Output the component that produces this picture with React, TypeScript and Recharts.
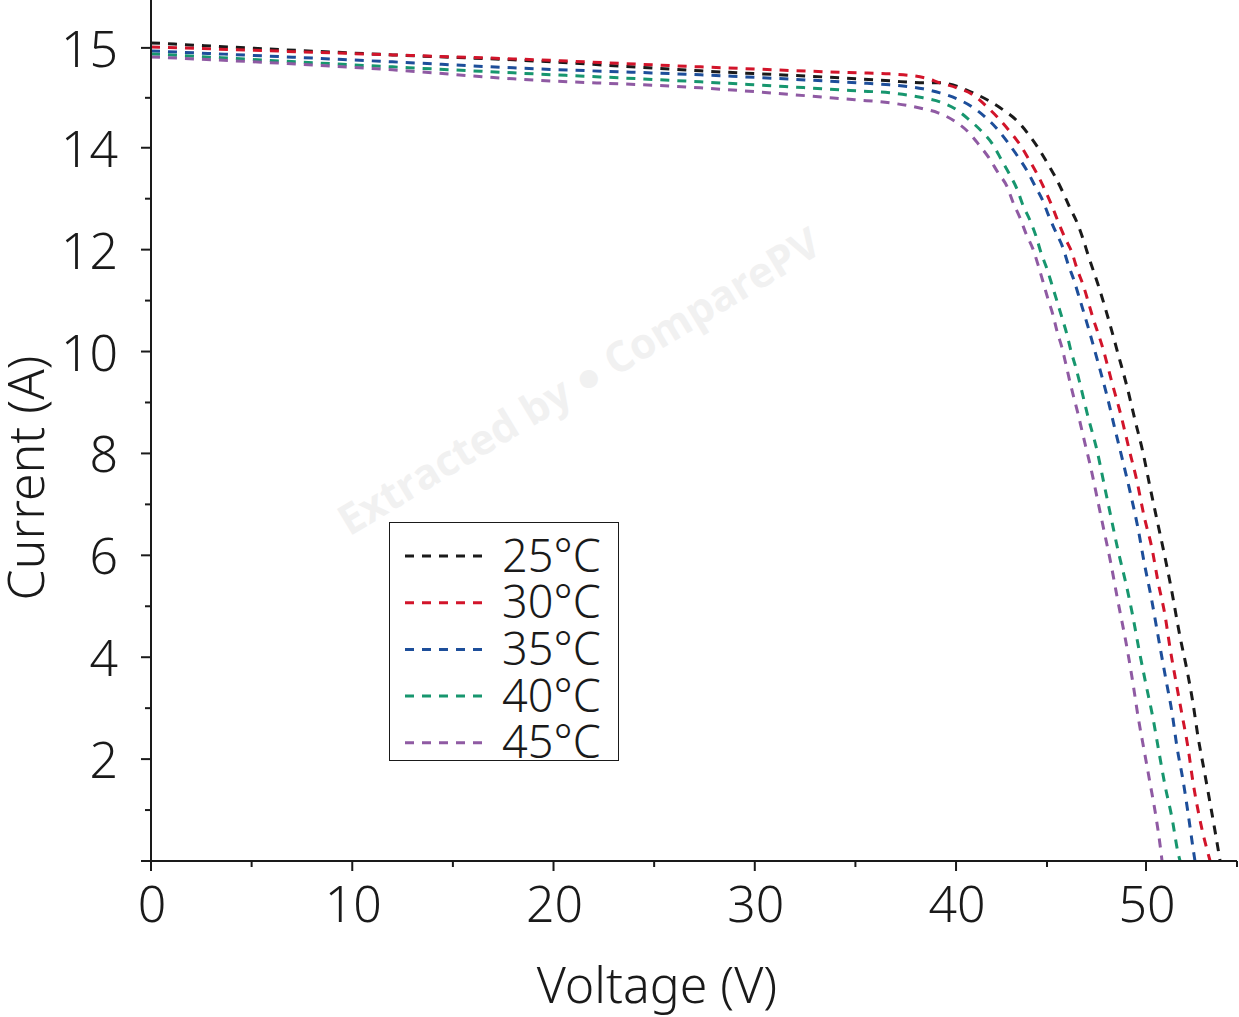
import React from "react";
import { LineChart, Line, XAxis, YAxis, Legend } from "recharts";

// temperatures and their curves (voltage in V, current in A)
const temps = ["25°C", "30°C", "35°C", "40°C", "45°C"];
const colors = ["#1a1a1a", "#d2142a", "#1d4e9a", "#17966e", "#8f5aa3"];

const v25 = [0, 12.0, 18.0, 27.3, 35.1, 36.7, 38.4, 39.2, 40.93, 41.81, 42.58, 43.35, 43.96, 44.51, 45.0, 45.4, 45.81, 46.16, 46.52, 46.82, 47.07, 47.63, 48.13, 48.59, 49.04, 49.44, 49.85, 50.22, 50.6, 50.99, 51.37, 51.87, 52.25, 52.58, 52.86, 53.19, 53.52, 53.85, 54.07];
const i25 = [15.05, 14.93, 14.88, 14.77, 14.69, 14.67, 14.65, 14.65, 14.55, 14.47, 14.38, 14.27, 14.14, 14.0, 13.71, 13.44, 13.12, 12.82, 12.53, 12.21, 11.9, 11.25, 10.6, 9.95, 9.31, 8.66, 8.01, 7.34, 6.7, 6.05, 5.38, 4.4, 3.75, 3.1, 2.43, 1.79, 1.14, 0.47, 0];

const v30 = [0, 12.0, 18.0, 27.3, 35.1, 36.7, 38.46, 39.2, 40.05, 40.93, 41.7, 42.31, 42.97, 43.52, 43.96, 44.45, 44.89, 45.25, 45.56, 45.91, 46.26, 46.52, 46.82, 47.32, 47.83, 48.28, 48.74, 49.14, 49.55, 49.9, 50.33, 50.66, 51.04, 51.32, 51.65, 51.98, 52.31, 52.58, 52.91, 53.52];
const i30 = [15.01, 14.93, 14.89, 14.81, 14.75, 14.74, 14.7, 14.65, 14.6, 14.53, 14.41, 14.3, 14.16, 14.03, 13.8, 13.49, 13.17, 12.86, 12.55, 12.23, 11.94, 11.62, 11.31, 10.66, 10.05, 9.39, 8.74, 8.09, 7.44, 6.77, 6.13, 5.48, 4.83, 4.18, 3.51, 2.87, 2.22, 1.55, 0.9, 0];

const v35 = [0, 12.0, 18.0, 27.3, 35.1, 36.7, 38.36, 39.2, 40.05, 40.88, 41.59, 42.25, 42.86, 43.41, 43.9, 44.34, 44.78, 45.1, 45.45, 45.81, 46.06, 46.36, 46.62, 47.12, 47.58, 48.03, 48.43, 48.84, 49.24, 49.6, 49.9, 50.27, 50.77, 51.1, 51.43, 51.7, 52.03, 52.31, 52.58, 52.69];
const i35 = [14.97, 14.86, 14.8, 14.73, 14.65, 14.63, 14.59, 14.55, 14.49, 14.41, 14.31, 14.19, 14.05, 13.82, 13.55, 13.25, 12.95, 12.65, 12.34, 12.03, 11.72, 11.4, 11.07, 10.42, 9.78, 9.13, 8.48, 7.83, 7.17, 6.52, 5.87, 5.2, 4.2, 3.55, 2.91, 2.24, 1.59, 0.94, 0.26, 0];

const v40 = [0, 12.0, 18.0, 27.3, 35.1, 36.7, 38.36, 39.2, 39.95, 40.66, 41.43, 42.03, 42.53, 42.97, 43.35, 43.68, 44.07, 44.4, 44.67, 45.0, 45.25, 45.51, 45.76, 46.01, 46.21, 46.46, 46.67, 47.07, 47.53, 47.88, 48.23, 48.59, 48.99, 49.34, 49.65, 50.0, 50.38, 50.71, 51.04, 51.43, 51.76, 51.87];
const i40 = [14.94, 14.81, 14.75, 14.66, 14.57, 14.55, 14.5, 14.46, 14.39, 14.29, 14.16, 14.03, 13.74, 13.46, 13.19, 12.87, 12.57, 12.26, 11.94, 11.62, 11.31, 10.98, 10.66, 10.33, 10.01, 9.68, 9.36, 8.72, 8.05, 7.4, 6.75, 6.09, 5.44, 4.79, 4.14, 3.46, 2.81, 2.14, 1.49, 0.84, 0.16, 0];

const v45 = [0, 12.0, 18.0, 27.3, 34.98, 36.72, 38.36, 39.11, 39.9, 40.66, 41.26, 41.81, 42.31, 42.8, 43.13, 43.52, 43.85, 44.23, 44.51, 44.78, 45.05, 45.3, 45.51, 45.76, 45.96, 46.16, 46.36, 46.57, 46.77, 46.97, 47.17, 47.53, 47.88, 48.23, 48.54, 49.04, 49.34, 49.6, 49.9, 50.22, 50.55, 50.82, 50.88];
const i45 = [14.91, 14.78, 14.69, 14.6, 14.48, 14.45, 14.39, 14.35, 14.27, 14.16, 14.03, 13.8, 13.51, 13.24, 12.93, 12.62, 12.31, 12.01, 11.7, 11.37, 11.03, 10.72, 10.39, 10.07, 9.74, 9.4, 9.09, 8.77, 8.44, 8.11, 7.79, 7.13, 6.48, 5.83, 5.18, 4.18, 3.49, 2.83, 2.18, 1.53, 0.86, 0.18, 0];

const voltages = [v25, v30, v35, v40, v45];
const currents = [i25, i30, i35, i40, i45];

// tick values as printed on the axes
const xTicks = [0, 5, 10, 15, 20, 25, 30, 35, 40, 45, 50, 55];
const xLabels = [0, 10, 20, 30, 40, 50];
const yTicks = [0, 1, 2, 3, 4, 5, 6, 7, 8, 9, 10, 11, 12, 13, 14, 14.5, 15];
const yLabels = [2, 4, 6, 8, 10, 12, 14, 15];

// the printed axes are not linear: stretched above 14 A and uneven past 40 V
const xIn = [0, 40, 45, 50, 55];
const xOut = [0, 40, 44.52, 49.44, 53.96];
const yIn = [0, 14, 15, 15.5];
const yOut = [0, 14, 15.96, 16.94];

const warp = (v: number, ins: number[], outs: number[]) => {
  for (let k = 1; k < ins.length; k++) {
    if (v <= ins[k] || k === ins.length - 1) {
      const t = (v - ins[k - 1]) / (ins[k] - ins[k - 1]);
      return outs[k - 1] + t * (outs[k] - outs[k - 1]);
    }
  }
  return v;
};

const ink = "#1a1a1a";
const font = "'Noto Sans', sans-serif";

const series = temps.map((name, s) => ({
  name,
  color: colors[s],
  data: voltages[s].map((v, k) => ({ x: warp(v, xIn, xOut), y: warp(currents[s][k], yIn, yOut) })),
}));

const XTick = (props: any) => {
  const { x, y, payload } = props;
  const v = Math.round(warp(payload.value, xOut, xIn) * 10) / 10;
  const major = v % 10 === 0;
  return (
    <g>
      <line x1={x} x2={x} y1={y} y2={y + (major ? 10 : 6)} stroke={ink} strokeWidth={2} />
      {xLabels.includes(v) && (
        <text x={x + 1} y={y + 42} textAnchor="middle" dominantBaseline="central" fontFamily={font} fontWeight={300} fontSize={50} fill={ink}>
          {v}
        </text>
      )}
    </g>
  );
};

const YTick = (props: any) => {
  const { x, y, payload } = props;
  const v = Math.round(warp(payload.value, yOut, yIn) * 10) / 10;
  const major = v % 2 === 0 || v === 15;
  return (
    <g>
      <line x1={x} x2={x - (major ? 10 : 6)} y1={y} y2={y} stroke={ink} strokeWidth={2} />
      {yLabels.includes(v) && (
        <text x={x - 33} y={y} textAnchor="end" dominantBaseline="central" fontFamily={font} fontWeight={300} fontSize={50} fill={ink}>
          {v}
        </text>
      )}
    </g>
  );
};

const YTitle = () => (
  <text
    x={25}
    y={478}
    transform="rotate(-90, 25, 478)"
    textAnchor="middle"
    dominantBaseline="central"
    fontFamily={font}
    fontWeight={300}
    fontSize={50}
    fill={ink}
  >
    Current (A)
  </text>
);

const LegendBox = () => (
  <div style={{ width: 230, height: 239, border: `1.5px solid ${ink}`, boxSizing: "border-box", background: "white" }}>
    <svg width={227} height={236} style={{ overflow: "visible", display: "block" }}>
      {series.map((s, k) => (
        <g key={s.name}>
          <line x1={15} x2={92} y1={33 + k * 46.7} y2={33 + k * 46.7} stroke={s.color} strokeWidth={3} strokeDasharray="9 8" />
          <text x={112} y={31 + k * 46.7} dominantBaseline="central" fontFamily={font} fontWeight={300} fontSize={45} fill={ink}>
            {s.name}
          </text>
        </g>
      ))}
    </svg>
  </div>
);

export default function App() {
  return (
    <div style={{ position: "absolute", left: 0, top: 0, width: 1239, height: 1017, background: "white" }}>
      <div
        style={{
          position: "absolute",
          left: 578,
          top: 380,
          transform: "translate(-50%, -50%) rotate(-31deg)",
          fontFamily: "'Open Sans', sans-serif",
          fontWeight: 700,
          fontSize: 42,
          color: "#f1f1f1",
          whiteSpace: "nowrap",
        }}
      >
        Extracted by ● ComparePV
      </div>
      <LineChart width={1239} height={1017} margin={{ top: 0, right: 2, bottom: 0, left: 0 }} style={{ position: "absolute", left: 0, top: 0 }}>
        <XAxis
          type="number"
          dataKey="x"
          domain={[0, 53.96]}
          ticks={xTicks.map((v) => warp(v, xIn, xOut))}
          interval={0}
          height={156}
          tickSize={0}
          tickMargin={0}
          tick={<XTick />}
          axisLine={{ stroke: ink, strokeWidth: 2 }}
          label={{ value: "Voltage (V)", position: "insideBottom", offset: 14, dx: -37, fontFamily: font, fontWeight: 300, fontSize: 50, fill: ink }}
        />
        <YAxis
          type="number"
          dataKey="y"
          domain={[0, 16.9]}
          ticks={yTicks.map((v) => warp(v, yIn, yOut))}
          interval={0}
          width={151}
          tickSize={0}
          tickMargin={0}
          tick={<YTick />}
          axisLine={{ stroke: ink, strokeWidth: 2 }}
          label={{ content: () => <YTitle /> }}
        />
        <Legend
          layout="vertical"
          align="center"
          verticalAlign="middle"
          wrapperStyle={{ position: "absolute", left: 389, top: 522, width: 230, height: 239 }}
          content={() => <LegendBox />}
        />
        {series.map((s) => (
          <Line
            key={s.name}
            name={s.name}
            data={s.data}
            dataKey="y"
            type="monotone"
            stroke={s.color}
            strokeWidth={3}
            strokeDasharray="9 8"
            dot={false}
            activeDot={false}
            isAnimationActive={false}
          />
        ))}
      </LineChart>
    </div>
  );
}
